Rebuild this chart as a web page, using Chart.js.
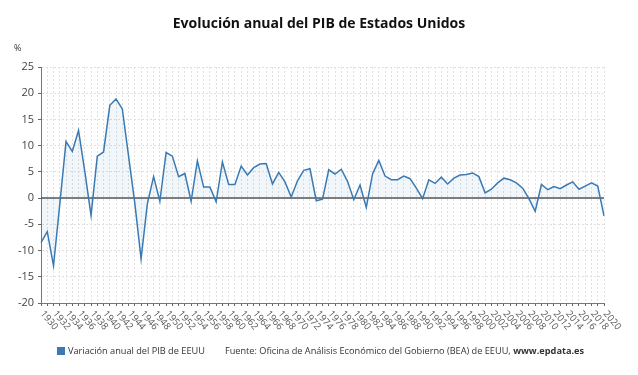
<!DOCTYPE html>
<html>
<head>
<meta charset="utf-8">
<script src="https://cdn.jsdelivr.net/npm/chart.js@4"></script>
<style>
  body { margin: 0; background: #fff; font-family: "Open Sans", sans-serif; }
  #wrap { position: relative; width: 638px; height: 375px; }
  #title { position: absolute; top: 13px; left: 0; width: 638px; text-align: center; font-size: 14px; font-weight: bold; color: #111; }
  #unit { position: absolute; top: 41px; left: 14px; font-size: 9px; color: #333; }
  #foot { position: absolute; top: 344px; left: 57px; font-size: 9.2px; color: #333; white-space: nowrap; }
  #foot .sq { display: inline-block; width: 8px; height: 8px; background: #3a7ab3; margin-right: 3px; vertical-align: -1px; }
  #foot .src { margin-left: 20px; }
</style>
</head>
<body>
<div id="wrap">
  <canvas id="pib-chart" width="638" height="375"></canvas>
  <div id="title">Evolución anual del PIB de Estados Unidos</div>
  <div id="unit">%</div>
  <div id="foot"><span class="sq"></span>Variación anual del PIB de EEUU<span class="src">Fuente: Oficina de Análisis Económico del Gobierno (BEA) de EEUU, <b>www.epdata.es</b></span></div>
</div>
<script>
// años 1930-2020
const years = [];
for (let y = 1930; y <= 2020; y++) years.push(String(y));

const pibValues = [
  -8.5, -6.4, -12.9, -1.2, 10.8, 8.9, 12.9, 5.1, -3.3, 8.0,
  8.8, 17.7, 18.9, 17.0, 8.0, -1.0, -11.6, -1.1, 4.1, -0.6,
  8.7, 8.0, 4.1, 4.7, -0.6, 7.1, 2.1, 2.1, -0.7, 6.9,
  2.6, 2.6, 6.1, 4.4, 5.8, 6.5, 6.6, 2.7, 4.9, 3.1,
  0.2, 3.3, 5.3, 5.6, -0.5, -0.2, 5.4, 4.6, 5.5, 3.2,
  -0.3, 2.5, -1.8, 4.6, 7.2, 4.2, 3.5, 3.5, 4.2, 3.7,
  1.9, -0.1, 3.5, 2.8, 4.0, 2.7, 3.8, 4.4, 4.5, 4.8,
  4.1, 1.0, 1.7, 2.9, 3.8, 3.5, 2.9, 1.9, -0.1, -2.5,
  2.6, 1.6, 2.2, 1.8, 2.5, 3.1, 1.7, 2.3, 2.9, 2.3,
  -3.4
];

const yTicks = [25, 20, 15, 10, 5, 0, -5, -10, -15, -20];

// etiquetas del eje x cada 2 años, giradas hacia abajo
const xLabels = {
  id: "xLabels",
  afterDraw(chart) {
    const ctx = chart.ctx;
    const sx = chart.scales.x;
    ctx.save();
    ctx.font = "9.5px 'Open Sans', sans-serif";
    ctx.fillStyle = "#555";
    ctx.textAlign = "left";
    ctx.textBaseline = "middle";
    years.forEach((y, i) => {
      if (i % 2 !== 0) return;
      const x = sx.getPixelForValue(i);
      ctx.save();
      ctx.translate(x + 1, sx.top + 9);
      ctx.rotate(50 * Math.PI / 180);
      ctx.fillText(y, 0, 0);
      ctx.restore();
    });
    ctx.restore();
  }
};

// línea del cero
const zeroLine = {
  id: "zeroLine",
  beforeDatasetsDraw(chart) {
    const ctx = chart.ctx;
    const y = chart.scales.y.getPixelForValue(0);
    ctx.save();
    ctx.strokeStyle = "#555";
    ctx.lineWidth = 1.5;
    ctx.beginPath();
    ctx.moveTo(chart.chartArea.left, y);
    ctx.lineTo(chart.chartArea.right, y);
    ctx.stroke();
    ctx.restore();
  }
};

new Chart(document.getElementById("pib-chart"), {
  type: "line",
  data: {
    labels: years,
    datasets: [{
      label: "Variación anual del PIB de EEUU",
      data: pibValues,
      borderColor: "#3a7ab3",
      backgroundColor: "rgba(58,122,179,0.07)",
      borderWidth: 1.5,
      pointRadius: 0,
      tension: 0,
      fill: "origin"
    }]
  },
  options: {
    responsive: false,
    animation: false,
    layout: { padding: { top: 67, right: 34, bottom: 68, left: 0 } },
    plugins: {
      legend: { display: false },
      title: { display: false },
      tooltip: { enabled: false }
    },
    scales: {
      x: {
        ticks: { display: false },
        grid: {
          color: "#e0e0e0",
          tickColor: "#666",
          tickLength: 3,
          lineWidth: 1
        },
        border: { color: "#777", width: 1, dash: [2, 2] },
        afterFit(scale) { scale.height = 4; }
      },
      y: {
        min: -20,
        max: 25,
        afterBuildTicks(scale) { scale.ticks = yTicks.map(v => ({ value: v })); },
        ticks: {
          color: "#444",
          font: { family: "'Open Sans', sans-serif", size: 11 },
          padding: 4
        },
        grid: {
          color: "#e0e0e0",
          tickColor: "#666",
          tickLength: 3
        },
        border: { color: "#777", width: 1, dash: [2, 2] },
        afterFit(scale) { scale.width = 41; }
      }
    }
  },
  plugins: [xLabels, zeroLine]
});
</script>
</body>
</html>
